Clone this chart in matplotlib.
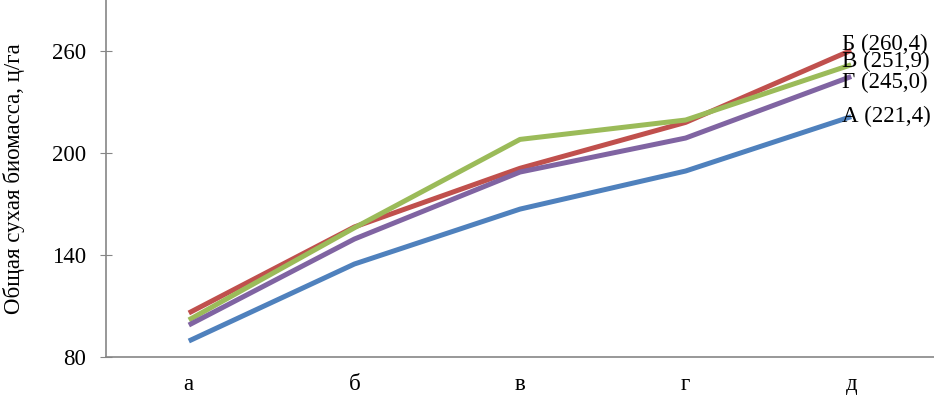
import matplotlib
matplotlib.use("Agg")
import matplotlib.pyplot as plt
import numpy as np

categories = ["а", "б", "в", "г", "д"]
series_names = ["А", "Б", "В", "Г"]
series_a = [89.4, 134.7, 167.0, 189.4, 221.4]
series_b = [105.9, 156.5, 191.0, 218.0, 260.4]
series_v = [101.8, 156.0, 208.0, 219.4, 251.9]
series_g = [98.8, 149.4, 188.8, 208.8, 245.0]
colors = ["#4F81BD", "#C0504D", "#9BBB59", "#8064A2"]
yticks = [80, 140, 200, 260]

plt.rcParams["font.family"] = ["Liberation Serif", "DejaVu Serif"]
fs = 16.5

fig = plt.figure(figsize=(9.34, 3.95), dpi=100)
ax = fig.add_axes([0.1135, 0.0962, 0.8865, 0.9038])

x = np.arange(len(categories))
all_series = [series_a, series_b, series_v, series_g]
for name, vals, c in zip(series_names, all_series, colors):
    ax.plot(x, vals, color=c, lw=3.6, solid_capstyle="butt")

# end labels nudged apart vertically, as the original spreads them
label_shift = [0.6, 5.8, 3.8, -5.5]  # pixels up
for name, vals, dy in zip(series_names, all_series, label_shift):
    ax.annotate(f"{name} ({vals[-1]:.1f})".replace(".", ","),
                xy=(x[-1], vals[-1]), xytext=(-9, dy), textcoords="offset pixels",
                ha="left", va="center", fontsize=fs)

ax.set_xlim(-0.5, len(categories) - 0.5)
ax.set_ylim(80, 290)
ax.set_yticks(yticks)
ax.set_xticks(x)
ax.set_xticklabels(categories, fontsize=fs)
ax.tick_params(axis="y", direction="inout", length=9, color="#868686", labelsize=fs, pad=10)
ax.tick_params(axis="x", length=0, pad=12)
ax.set_ylabel("Общая сухая биомасса, ц/га", fontsize=fs, labelpad=19)

ax.spines[["top", "right"]].set_visible(False)
for s in ("left", "bottom"):
    ax.spines[s].set_color("#868686")
    ax.spines[s].set_linewidth(1.2)

fig.savefig("out.png", dpi=100)
